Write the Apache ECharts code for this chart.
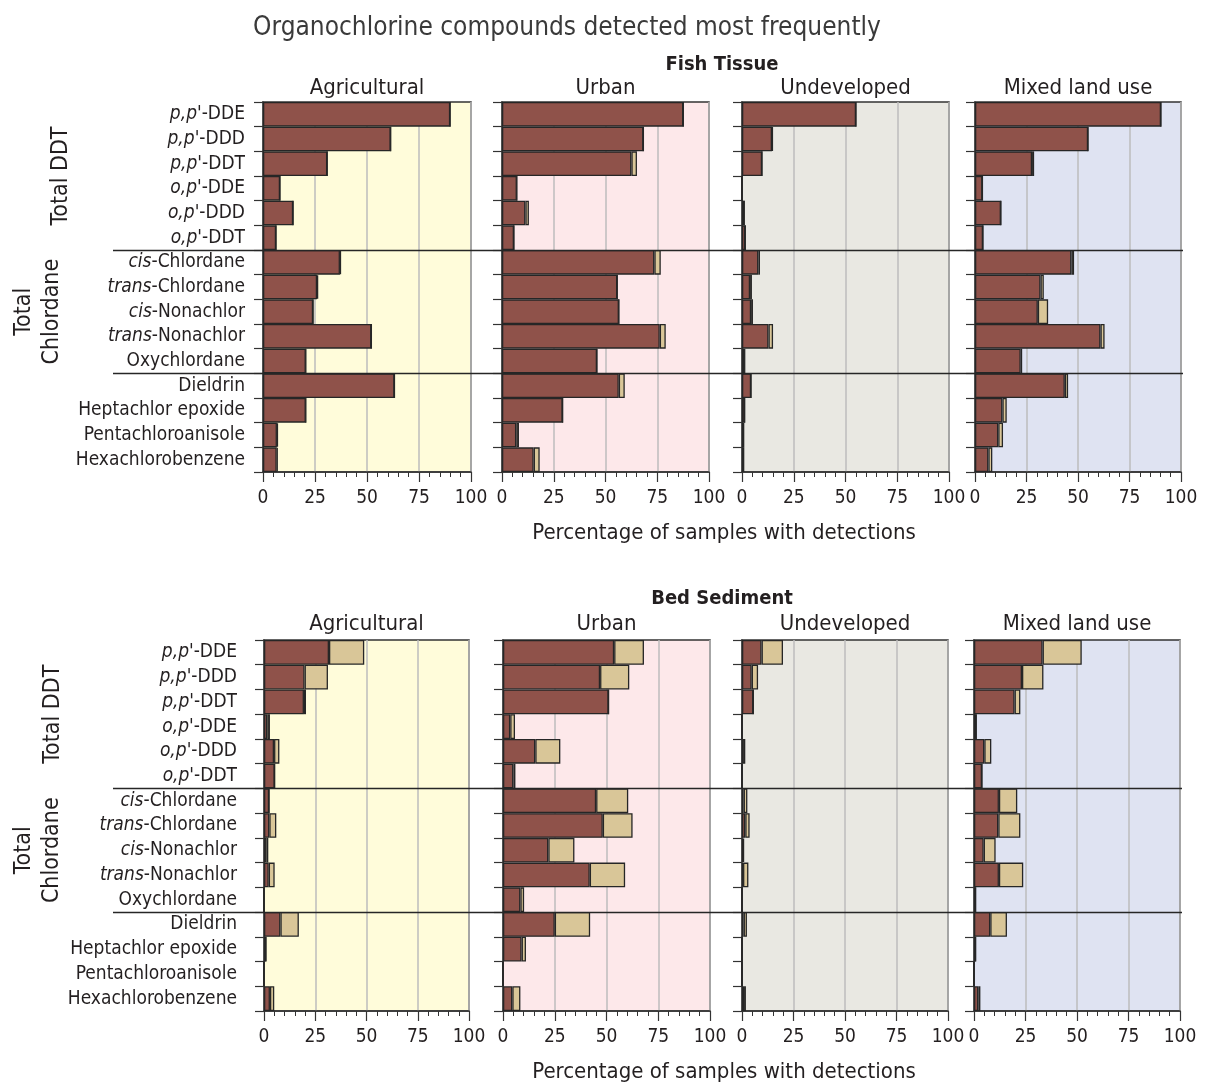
<!DOCTYPE html>
<html>
<head>
<meta charset="utf-8">
<title>Organochlorine compounds detected most frequently</title>
<script src="https://cdn.jsdelivr.net/npm/echarts@6/dist/echarts.min.js"></script>
<style>
  html, body { margin: 0; padding: 0; background: #ffffff; }
  #chart { width: 1211px; height: 1086px; }
</style>
</head>
<body>
<div id="chart"></div>
<script>
// ---- data -----------------------------------------------------------------
const compounds = [
  "p,p'-DDE", "p,p'-DDD", "p,p'-DDT", "o,p'-DDE", "o,p'-DDD", "o,p'-DDT",
  "cis-Chlordane", "trans-Chlordane", "cis-Nonachlor", "trans-Nonachlor", "Oxychlordane",
  "Dieldrin", "Heptachlor epoxide", "Pentachloroanisole", "Hexachlorobenzene"
];
const landUses = ['Agricultural', 'Urban', 'Undeveloped', 'Mixed land use'];
const xTicks = [0, 25, 50, 75, 100];

// Percentage of samples with detections: base segment and additional segment
const fishAgricultural      = [90.0, 61.4, 30.9, 8.2, 14.5, 6.3, 37.0, 26.0, 24.1, 52.1, 20.6, 63.2, 20.6, 6.7, 6.6];
const fishAgriculturalExtra = [0, 0, 0, 0, 0, 0, 0.5, 0.5, 0, 0, 0, 0, 0, 0.5, 0.5];
const fishUrban             = [87.6, 68.3, 62.5, 7.2, 11.3, 5.8, 73.6, 55.7, 56.5, 76.2, 45.9, 56.4, 29.3, 6.9, 15.3];
const fishUrbanExtra        = [0, 0, 2.7, 0, 1.7, 0, 3.1, 0, 0, 2.9, 0, 2.9, 0, 1.3, 2.9];
const fishUndeveloped       = [55.1, 14.5, 9.7, 0, 1.1, 1.6, 7.9, 3.9, 4.4, 12.8, 1.1, 4.4, 1.3, 0.8, 0.8];
const fishUndevelopedExtra  = [0, 0.4, 0, 0, 0, 0, 0.8, 0.9, 0.9, 2.2, 0.4, 0, 0, 0, 0];
const fishMixed             = [90.3, 54.9, 27.7, 3.6, 12.6, 3.9, 46.8, 31.8, 30.5, 60.9, 22.2, 43.6, 13.3, 11.3, 6.5];
const fishMixedExtra        = [0, 0, 1.0, 0, 0, 0, 1.3, 1.6, 5.0, 2.0, 0.7, 1.6, 2.1, 2.3, 1.9];

const sedAgricultural       = [31.7, 19.8, 19.5, 1.6, 4.9, 5.2, 2.5, 2.6, 1.3, 2.3, 0, 8.0, 1.0, 0, 2.9];
const sedAgriculturalExtra  = [17.2, 11.4, 1.0, 1.3, 2.6, 0, 0, 3.4, 0.8, 2.9, 0, 9.0, 0, 0, 2.1];
const sedUrban              = [53.7, 46.9, 51.0, 3.5, 15.6, 5.0, 45.0, 48.2, 21.9, 41.9, 8.4, 25.0, 9.0, 0, 4.5];
const sedUrbanExtra         = [14.4, 14.1, 0, 2.3, 12.1, 1.0, 15.5, 14.4, 12.6, 17.1, 1.8, 17.1, 2.1, 0, 3.9];
const sedUndeveloped        = [9.5, 4.7, 5.5, 0, 0.3, 0, 0.8, 1.6, 0.5, 0.5, 0, 0.8, 0, 0, 1.0];
const sedUndevelopedExtra   = [10.4, 3.1, 0, 0, 1.3, 0, 1.8, 2.1, 0.5, 2.6, 0, 1.6, 0, 0, 0.9];
const sedMixed              = [33.3, 23.3, 19.7, 1.1, 5.0, 3.9, 12.1, 11.8, 4.7, 12.1, 0.8, 7.9, 0.8, 0, 2.1];
const sedMixedExtra         = [19.0, 10.4, 2.8, 0, 3.4, 0, 8.9, 10.7, 5.8, 11.8, 0, 8.1, 0, 0, 1.0];

const sections = [
  { title: 'Fish Tissue', panels: [
      [fishAgricultural, fishAgriculturalExtra], [fishUrban, fishUrbanExtra],
      [fishUndeveloped, fishUndevelopedExtra], [fishMixed, fishMixedExtra] ] },
  { title: 'Bed Sediment', panels: [
      [sedAgricultural, sedAgriculturalExtra], [sedUrban, sedUrbanExtra],
      [sedUndeveloped, sedUndevelopedExtra], [sedMixed, sedMixedExtra] ] }
];

// ---- styling / layout -----------------------------------------------------
const FONT = '"Liberation Sans Narrow", "DejaVu Sans Condensed", Roboto, sans-serif';
const INK = '#231f20';
const BASE_COLOR = '#8f524a';
const EXTRA_COLOR = '#d9c698';
const PANEL_BG = ['#fffcda', '#fde8ea', '#e9e8e2', '#dfe3f2'];

const layout = [
  { top: 102, height: 370, lefts: [263, 502, 742, 975], widths: [208, 207, 207, 206], labelMargin: 18,
    titleY: 65, headerY: 88, axisNameY: 533, ddtX: 61, chlordaneX: 38 },
  { top: 640, height: 371, lefts: [264, 503, 742, 974], widths: [205, 207, 206, 206], labelMargin: 27,
    titleY: 599, headerY: 624, axisNameY: 1072, ddtX: 53, chlordaneX: 38 }
];
const SEPARATOR_LEFT = 113;

function compoundLabel(name) {
  let m = name.match(/^([op],p)('.*)$/);
  if (m) return '{i|' + m[1] + '}{n|' + m[2] + '}';
  m = name.match(/^(cis|trans)(-.*)$/);
  if (m) return '{i|' + m[1] + '}{n|' + m[2] + '}';
  return '{n|' + name + '}';
}

const grids = [], xAxes = [], yAxes = [], series = [];
sections.forEach((sec, s) => {
  const L = layout[s];
  sec.panels.forEach((pair, p) => {
    const idx = s * 4 + p;
    grids.push({
      left: L.lefts[p], top: L.top, width: L.widths[p], height: L.height,
      show: true, backgroundColor: PANEL_BG[p], borderColor: '#333333', borderWidth: 1.5,
      containLabel: false
    });
    xAxes.push({
      type: 'value', gridIndex: idx, min: xTicks[0], max: xTicks[xTicks.length - 1],
      interval: xTicks[1] - xTicks[0],
      axisLine: { show: true, lineStyle: { color: '#333333', width: 1.5 } },
      axisTick: { show: true, length: 10, lineStyle: { color: '#333333', width: 1.2 } },
      minorTick: { show: true, splitNumber: 5, length: 5, lineStyle: { color: '#333333', width: 1 } },
      splitLine: { show: true, lineStyle: { color: '#bdbdbd', width: 1.5 } },
      axisLabel: { fontFamily: FONT, fontSize: 19, color: INK, margin: 17 }
    });
    yAxes.push({
      type: 'category', gridIndex: idx, data: compounds, inverse: true,
      axisLine: { show: true, lineStyle: { color: '#333333', width: 1.5 } },
      axisTick: { show: true, length: 9, lineStyle: { color: '#333333', width: 1.2 } },
      splitLine: { show: false },
      axisLabel: {
        show: p === 0, margin: L.labelMargin, formatter: compoundLabel, align: 'right',
        rich: {
          i: { fontFamily: FONT, fontSize: 19, fontStyle: 'italic', color: INK },
          n: { fontFamily: FONT, fontSize: 19, color: INK }
        }
      }
    });
    series.push({
      type: 'bar', xAxisIndex: idx, yAxisIndex: idx, stack: 'panel' + idx, data: pair[0],
      barCategoryGap: '0%', silent: true,
      itemStyle: { color: BASE_COLOR, borderColor: '#262626', borderWidth: 1.3 }
    });
    series.push({
      type: 'bar', xAxisIndex: idx, yAxisIndex: idx, stack: 'panel' + idx, data: pair[1],
      barCategoryGap: '0%', silent: true,
      itemStyle: { color: EXTRA_COLOR, borderColor: '#262626', borderWidth: 1.3 }
    });
  });
});

const chart = echarts.init(document.getElementById('chart'), null, { renderer: 'canvas' });
chart.setOption({
  animation: false,
  backgroundColor: '#ffffff',
  grid: grids, xAxis: xAxes, yAxis: yAxes, series: series
});

// ---- headings, group labels and section separators ------------------------
const graphics = [];
function text(x, y, str, style, rotation) {
  graphics.push({
    type: 'text', x: x, y: y, rotation: rotation || 0, silent: true,
    style: Object.assign({ text: str, fontFamily: FONT, fill: INK, align: 'center', verticalAlign: 'middle' }, style)
  });
}

text(567, 28, 'Organochlorine compounds detected most frequently', { fontSize: 26, fill: '#3a3a3a' });

sections.forEach((sec, s) => {
  const L = layout[s];
  const g0 = s * 4;
  const catY = k => chart.convertToPixel({ yAxisIndex: g0 }, compounds[k]);
  const band = catY(1) - catY(0);
  const boundary = k => catY(k) - band / 2;
  const xLeft = chart.convertToPixel({ xAxisIndex: g0 }, xTicks[0]);
  const xRight = chart.convertToPixel({ xAxisIndex: g0 + 3 }, xTicks[xTicks.length - 1]);

  text((xLeft + xRight) / 2, L.titleY, sec.title, { fontSize: 20, fontWeight: 'bold' });
  landUses.forEach((lu, p) => {
    const cx = chart.convertToPixel({ xAxisIndex: g0 + p }, 50);
    text(cx, L.headerY, lu, { fontSize: 22 });
  });
  text((xLeft + xRight) / 2 + 2, L.axisNameY, 'Percentage of samples with detections', { fontSize: 22 });

  // group labels: Total DDT (rows 0-5), Total Chlordane (rows 6-10)
  text(L.ddtX, (boundary(0) + boundary(6)) / 2, 'Total DDT', { fontSize: 23 }, Math.PI / 2);
  text(L.chlordaneX, (boundary(6) + boundary(11)) / 2, 'Total\nChlordane', { fontSize: 23, lineHeight: 28 }, Math.PI / 2);

  [6, 11].forEach(k => {
    const y = Math.round(boundary(k)) + 0.5;
    graphics.push({
      type: 'line', silent: true, z: 10,
      shape: { x1: SEPARATOR_LEFT, y1: y, x2: xRight + 2, y2: y },
      style: { stroke: '#262626', lineWidth: 1.3 }
    });
  });
});

chart.setOption({ graphic: graphics });
</script>
</body>
</html>
